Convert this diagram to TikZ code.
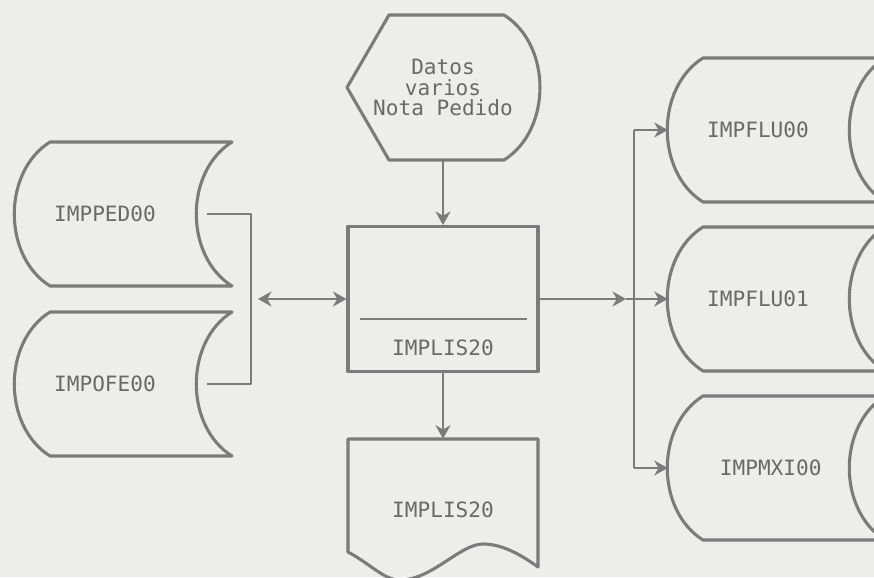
\documentclass[tikz,border=0pt]{standalone}
\usepackage{fontspec}
\newfontfamily\dotfont{DejaVu Sans Mono}
\usetikzlibrary{
  positioning,
  arrows.meta,
  calc
}
\definecolor{ink}{HTML}{7B7B7B}
\definecolor{paper}{HTML}{EDEDEA}

\begin{document}
\begin{tikzpicture}[
  line join=round,
  lbl/.style={font=\dotfont\fontsize{15}{14.6}\selectfont, text=ink!85!black, align=center},
  drum/.style={lbl, minimum width=4.5cm, minimum height=3.6cm, inner sep=0pt},
  disp/.style={lbl, minimum width=4.8cm, minimum height=3.625cm, inner sep=0pt},
  box/.style={draw=ink, line width=2.2pt, minimum width=4.75cm, minimum height=3.625cm, inner sep=0pt},
  outline/.style={draw=ink, line width=2.2pt},
  wire/.style={draw=ink, line width=1.2pt},
  arr/.style={wire, -{Stealth[length=3.4mm, width=3.8mm]}},
  dbl/.style={wire, {Stealth[length=3.4mm, width=3.8mm]}-{Stealth[length=3.4mm, width=3.8mm]}}
]
  \path[use as bounding box, fill=paper] (0,0) rectangle (21.85,14.425);

  % Input files
  \node[drum] (ped) at (2.625, 9.075) {IMPPED00};
  \node[drum] (ofe) at (2.625, 4.825) {IMPOFE00};

  % Screen data
  \node[disp] (hex) at (11.075, 12.2375) {Datos\\varios\\Nota Pedido};

  % Program
  \node[box] (proc) at (11.075, 6.95) {};
  \node[lbl] (proctxt) at (11.075, 5.725) {IMPLIS20};

  % Listing
  \node[lbl, minimum width=4.75cm, minimum height=3.55cm] (doc) at (11.075, 1.675) {IMPLIS20};

  % Output files
  \node[drum] (flu0) at (18.95, 11.175) {IMPFLU00};
  \node[drum] (flu1) at (18.95, 6.95) {IMPFLU01};
  \node[drum] (mxi) at (18.95, 2.725) {\hphantom{00}IMPMXI00};

  % Outlines
  \foreach \n in {ped, ofe, flu0, flu1, mxi}
    \draw[outline, shift={(\n.center)}] (-1.375,1.8) -- (3.175,1.8)
      to[bend right=58] (3.175,-1.8) -- (-1.375,-1.8)
      to[bend left=58] (-1.375,1.8) -- cycle;
  \draw[outline, shift={(hex.center)}] (-2.4,0) -- (-1.35,1.8125) -- (1.525,1.8125)
    to[bend left=58] (1.525,-1.8125) -- (-1.35,-1.8125) -- cycle;
  \draw[outline, shift={(doc.center)}] (-2.375,-1.05) -- (-2.375,1.775) -- (2.375,1.775)
    -- (2.375,-1.425) .. controls (2.025,-1.175) and (1.525,-0.85) .. (1.0,-0.85)
    .. controls (0.425,-0.85) and (-0.275,-1.75) .. (-1.075,-1.75)
    .. controls (-1.475,-1.75) and (-1.775,-1.375) .. (-2.375,-1.05) -- cycle;
  \draw[wire] ($(proc.west)+(0.35,-0.5)$) -- ($(proc.east)+(-0.325,-0.5)$);

  % Connections
  \coordinate (pedout) at ($(ped.east)+(0.3,0)$);
  \coordinate (ofeout) at ($(ofe.east)+(0.3,0)$);
  \coordinate (join) at (6.45, 6.95);
  \coordinate (tap) at (15.65, 6.95);
  \coordinate (bustop) at (15.85, 11.175);
  \coordinate (busbot) at (15.85, 2.725);

  \draw[wire] (pedout) -- ++(1.1,0) |- (ofeout);
  \draw[dbl] (join) -- (proc);
  \draw[arr] (hex) -- (proc);
  \draw[arr] (proc) -- (doc);

  \draw[arr] (proc) -- (tap);
  \draw[arr] (tap) -- (flu1);
  \draw[wire] (bustop) -- (busbot);
  \draw[arr] (bustop) -- (flu0);
  \draw[arr] (busbot) -- (mxi);
\end{tikzpicture}
\end{document}
